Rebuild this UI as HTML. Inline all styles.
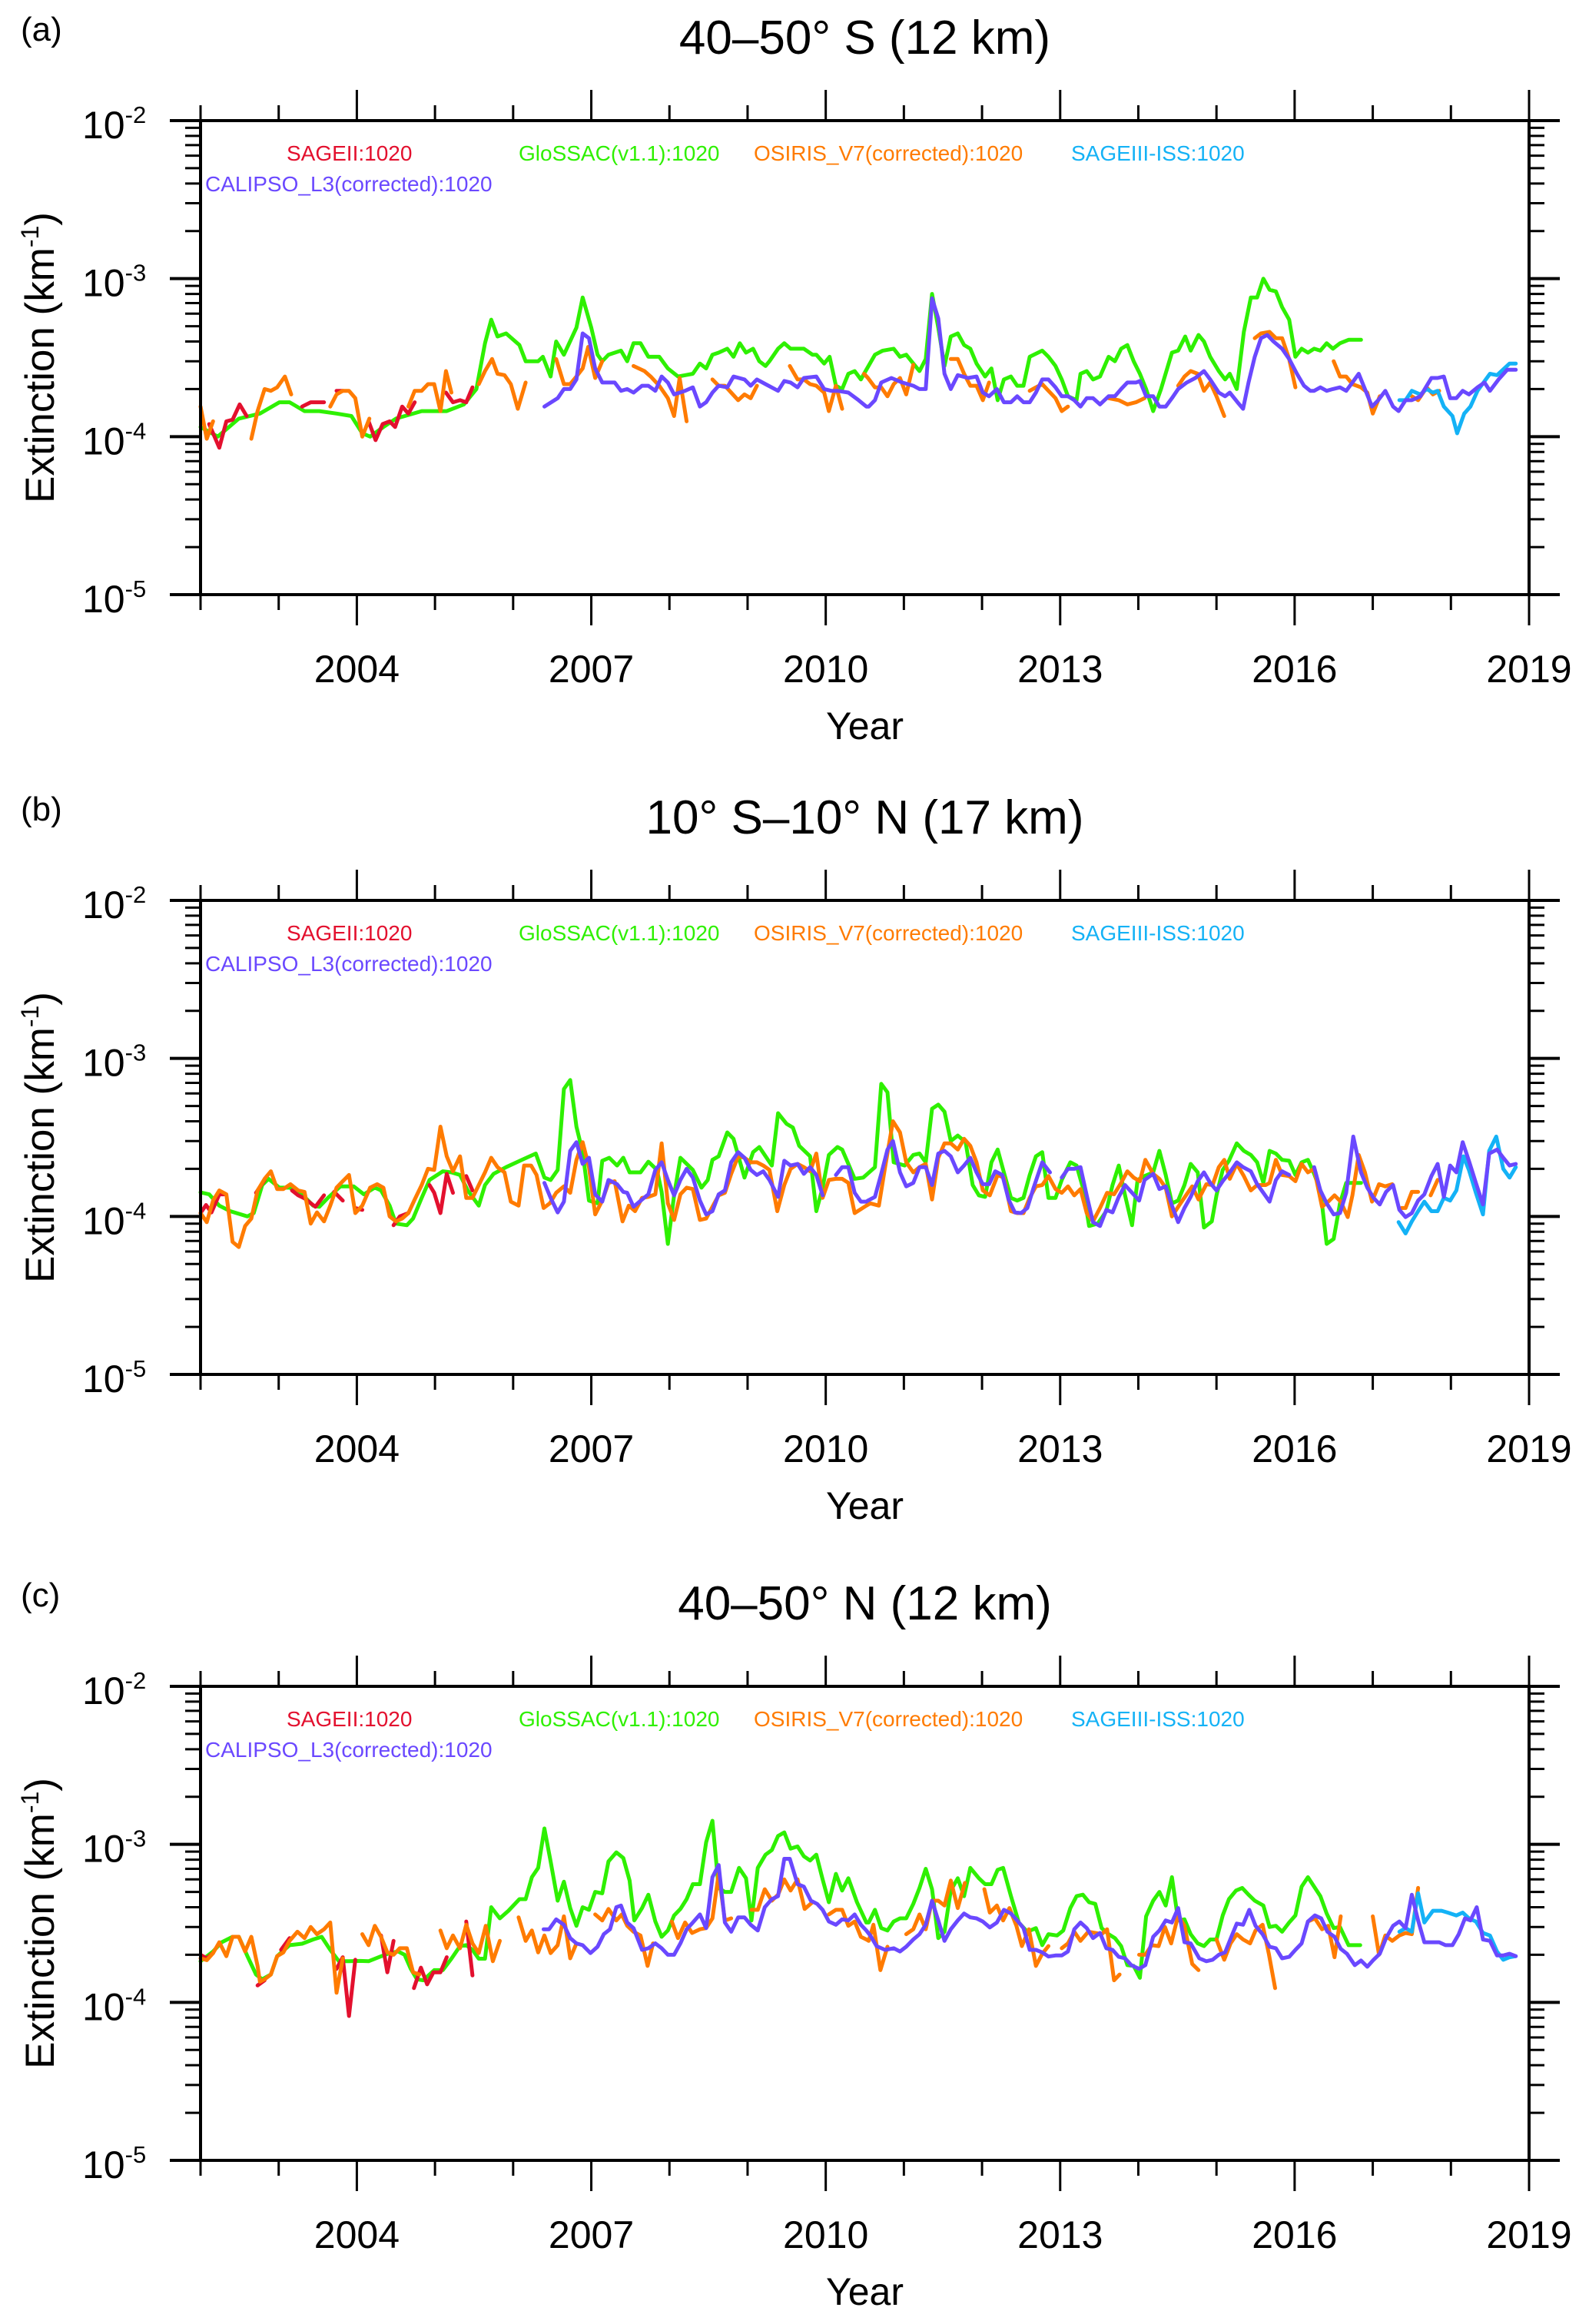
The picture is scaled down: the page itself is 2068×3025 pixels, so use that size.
<!DOCTYPE html>
<html><head><meta charset="utf-8"><title>Extinction time series</title>
<style>
html,body{margin:0;padding:0;background:#fff;}
svg{display:block;font-family:"Liberation Sans",Arial,sans-serif;}
</style></head>
<body>
<svg id="fig" width="2068" height="3025" viewBox="0 0 2068 3025" xmlns="http://www.w3.org/2000/svg"></svg>
<script>
// ---- data (values in units of 1e-4 km^-1; null = gap) ----
const UNIT = 1e-4;
const yearTicks = [2004, 2007, 2010, 2013, 2016, 2019];
const panelTitles = ["40\u201350\u00b0 S (12 km)", "10\u00b0 S\u201310\u00b0 N (17 km)", "40\u201350\u00b0 N (12 km)"];
const panelLetters = ["(a)", "(b)", "(c)"];
const decadeExps = [-2, -3, -4, -5];

const aGloss = [[2002.00,1.15],[2002.22,1.0],[2002.49,1.3],[2002.76,1.4],[2003.01,1.65],[2003.14,1.65],[2003.33,1.45],[2003.52,1.45],[2003.74,1.4],[2003.93,1.35],[2004.07,1.05],[2004.17,1.0],[2004.34,1.15],[2004.50,1.3],[2004.83,1.45],[2005.15,1.45],[2005.37,1.6],[2005.53,2.0],[2005.64,3.9],[2005.72,5.5],[2005.80,4.3],[2005.91,4.5],[2006.08,3.8],[2006.16,3.0],[2006.32,3.0],[2006.38,3.2],[2006.48,2.4],[2006.55,4.0],[2006.65,3.3],[2006.81,4.9],[2006.89,7.6],[2007.00,4.9],[2007.08,3.3],[2007.14,3.0],[2007.22,3.3],[2007.38,3.5],[2007.46,3.0],[2007.54,3.9],[2007.63,3.9],[2007.73,3.2],[2007.87,3.2],[2007.98,2.7],[2008.11,2.4],[2008.30,2.5],[2008.39,2.9],[2008.47,2.7],[2008.55,3.3],[2008.63,3.4],[2008.74,3.6],[2008.82,3.2],[2008.90,3.9],[2008.98,3.4],[2009.07,3.6],[2009.15,3.0],[2009.23,2.8],[2009.28,3.0],[2009.39,3.6],[2009.47,3.9],[2009.55,3.6],[2009.72,3.6],[2009.83,3.3],[2009.88,3.3],[2009.98,2.9],[2010.05,3.2],[2010.13,2.1],[2010.21,2.0],[2010.29,2.5],[2010.37,2.6],[2010.45,2.3],[2010.49,2.5],[2010.63,3.3],[2010.73,3.5],[2010.87,3.6],[2010.95,3.2],[2011.03,3.3],[2011.12,2.9],[2011.20,2.6],[2011.28,3.1],[2011.36,8.0],[2011.44,4.9],[2011.52,2.8],[2011.60,4.3],[2011.69,4.5],[2011.77,3.8],[2011.85,3.6],[2011.93,2.9],[2012.04,2.4],[2012.12,2.7],[2012.20,1.7],[2012.28,2.3],[2012.37,2.4],[2012.45,2.1],[2012.53,2.1],[2012.61,3.2],[2012.77,3.5],[2012.85,3.2],[2012.94,2.8],[2013.02,2.3],[2013.10,1.8],[2013.21,1.7],[2013.26,2.5],[2013.34,2.6],[2013.42,2.3],[2013.51,2.4],[2013.62,3.2],[2013.70,3.0],[2013.78,3.6],[2013.86,3.8],[2013.94,3.0],[2014.02,2.5],[2014.10,2.0],[2014.19,1.45],[2014.29,2.0],[2014.43,3.4],[2014.51,3.5],[2014.60,4.3],[2014.67,3.5],[2014.77,4.4],[2014.84,4.0],[2014.92,3.2],[2015.03,2.6],[2015.11,2.3],[2015.17,2.5],[2015.26,2.0],[2015.35,4.6],[2015.44,7.6],[2015.52,7.6],[2015.60,10],[2015.68,8.5],[2015.76,8.3],[2015.84,6.6],[2015.93,5.5],[2016.01,3.2],[2016.09,3.6],[2016.17,3.4],[2016.25,3.6],[2016.33,3.5],[2016.41,3.9],[2016.49,3.6],[2016.58,3.9],[2016.69,4.1],[2016.85,4.1]];
const aCal = [[2006.40,1.55],[2006.57,1.75],[2006.65,2.0],[2006.73,2.0],[2006.81,2.3],[2006.89,4.5],[2006.97,4.2],[2007.05,2.7],[2007.14,2.2],[2007.30,2.2],[2007.38,1.95],[2007.46,2.0],[2007.54,1.9],[2007.65,2.1],[2007.73,2.1],[2007.82,1.95],[2007.90,2.4],[2007.98,2.2],[2008.06,1.85],[2008.20,1.95],[2008.30,2.05],[2008.39,1.55],[2008.47,1.65],[2008.55,1.9],[2008.63,2.1],[2008.74,2.05],[2008.82,2.4],[2008.96,2.3],[2009.04,2.1],[2009.12,2.3],[2009.23,2.15],[2009.39,1.95],[2009.47,2.25],[2009.55,2.2],[2009.64,2.05],[2009.72,2.35],[2009.88,2.4],[2009.98,2.0],[2010.07,1.95],[2010.15,1.95],[2010.29,1.9],[2010.42,1.7],[2010.52,1.55],[2010.55,1.55],[2010.63,1.7],[2010.71,2.2],[2010.84,2.35],[2010.98,2.2],[2011.12,2.1],[2011.20,2.0],[2011.28,2.0],[2011.36,7.5],[2011.44,5.6],[2011.52,2.5],[2011.60,2.0],[2011.69,2.45],[2011.82,2.35],[2011.93,2.4],[2012.01,1.9],[2012.09,1.8],[2012.19,2.0],[2012.28,1.65],[2012.37,1.65],[2012.45,1.8],[2012.53,1.65],[2012.61,1.65],[2012.69,1.9],[2012.77,2.3],[2012.85,2.3],[2012.94,2.05],[2013.02,1.8],[2013.10,1.8],[2013.18,1.7],[2013.26,1.55],[2013.34,1.75],[2013.42,1.75],[2013.51,1.6],[2013.62,1.8],[2013.70,1.8],[2013.78,2.0],[2013.86,2.2],[2013.97,2.2],[2014.02,2.25],[2014.10,1.8],[2014.19,1.8],[2014.27,1.55],[2014.35,1.55],[2014.43,1.75],[2014.51,2.0],[2014.62,2.2],[2014.73,2.35],[2014.84,2.6],[2014.92,2.3],[2015.03,1.9],[2015.11,1.8],[2015.17,1.9],[2015.27,1.65],[2015.34,1.5],[2015.41,2.2],[2015.49,3.2],[2015.57,4.2],[2015.65,4.4],[2015.73,4.0],[2015.84,3.6],[2015.93,3.1],[2016.03,2.5],[2016.12,2.1],[2016.20,1.95],[2016.25,1.95],[2016.33,2.05],[2016.41,1.95],[2016.49,2.0],[2016.58,2.05],[2016.66,1.95],[2016.74,2.2],[2016.82,2.5],[2016.90,2.0],[2016.99,1.55],[2017.07,1.7],[2017.16,1.95],[2017.26,1.55],[2017.33,1.45],[2017.42,1.7],[2017.50,1.7],[2017.61,1.8],[2017.75,2.35],[2017.83,2.35],[2017.91,2.4],[2017.99,1.75],[2018.07,1.75],[2018.15,1.95],[2018.23,1.85],[2018.34,2.05],[2018.43,2.2],[2018.50,1.95],[2018.61,2.3],[2018.72,2.65],[2018.83,2.65]];
const aOsi = [[2002.00,1.55],[2002.08,0.97],[2002.16,1.25],null,[2002.65,0.97],[2002.73,1.45],[2002.82,2.0],[2002.90,1.95],[2002.98,2.05],[2003.08,2.4],[2003.16,1.85],null,[2003.66,1.55],[2003.74,1.85],[2003.82,1.95],[2003.90,1.95],[2003.98,1.75],[2004.07,1.0],[2004.16,1.3],null,[2004.66,1.55],[2004.74,1.95],[2004.83,1.95],[2004.91,2.15],[2004.99,2.15],[2005.07,1.45],[2005.14,2.6],[2005.21,1.9],null,[2005.56,2.15],[2005.64,2.6],[2005.73,3.1],[2005.80,2.5],[2005.89,2.45],[2005.97,2.15],[2006.06,1.5],[2006.16,2.2],null,[2006.55,3.1],[2006.65,2.15],[2006.73,2.15],[2006.81,2.4],[2006.89,2.7],[2006.96,3.7],[2007.05,2.35],[2007.14,3.0],null,[2007.54,2.8],[2007.68,2.6],[2007.76,2.4],[2007.87,2.1],[2007.98,1.75],[2008.06,1.35],[2008.13,2.35],[2008.22,1.25],null,[2008.55,2.3],[2008.63,2.1],[2008.71,2.1],[2008.79,1.9],[2008.88,1.7],[2008.96,1.85],[2009.04,1.75],[2009.12,2.1],null,[2009.54,2.8],[2009.64,2.3],[2009.72,2.3],[2009.80,2.15],[2009.88,2.1],[2009.98,1.9],[2010.04,1.45],[2010.13,2.1],[2010.21,1.5],null,[2010.49,2.5],[2010.54,2.35],[2010.63,2.05],[2010.71,2.05],[2010.79,1.8],[2010.87,2.15],[2010.95,2.35],[2011.03,1.85],[2011.12,2.85],null,[2011.60,3.1],[2011.69,3.1],[2011.77,2.5],[2011.85,2.1],[2011.93,2.1],[2012.01,1.7],[2012.09,2.2],null,[2012.61,1.95],[2012.69,2.05],[2012.77,2.15],[2012.85,1.95],[2012.94,1.75],[2013.02,1.45],[2013.10,1.55],null,[2013.62,1.75],[2013.75,1.7],[2013.86,1.6],[2013.97,1.65],[2014.08,1.75],null,[2014.51,2.1],[2014.59,2.4],[2014.67,2.6],[2014.76,2.5],[2014.84,1.95],[2014.92,2.2],[2015.00,1.8],[2015.10,1.35],null,[2015.49,4.2],[2015.57,4.5],[2015.68,4.6],[2015.76,4.2],[2015.84,4.2],[2015.93,3.1],[2016.01,2.05],null,[2016.50,3.0],[2016.58,2.4],[2016.66,2.4],[2016.74,2.15],[2016.85,2.05],[2016.93,1.9],[2017.00,1.4],[2017.09,1.8],null,[2017.50,1.8],[2017.58,1.7],[2017.69,2.05],[2017.77,1.85],[2017.85,1.95]];
const aSage = [[2002.11,1.2],[2002.24,0.85],[2002.33,1.25],[2002.41,1.28],[2002.50,1.6],[2002.59,1.35],null,[2003.30,1.55],[2003.41,1.65],[2003.58,1.65],null,[2003.74,1.95],[2003.82,1.95],null,[2004.15,1.25],[2004.24,0.95],[2004.33,1.2],[2004.42,1.25],[2004.49,1.15],[2004.58,1.55],[2004.66,1.4],[2004.74,1.65],null,[2005.14,1.9],[2005.23,1.65],[2005.32,1.7],[2005.40,1.65],[2005.48,2.05]];
const aIss = [[2017.34,1.7],[2017.42,1.7],[2017.50,1.95],[2017.61,1.85],[2017.69,2.0],[2017.77,1.9],[2017.83,1.95],[2017.91,1.55],[2018.02,1.35],[2018.08,1.05],[2018.17,1.4],[2018.25,1.55],[2018.34,1.95],[2018.50,2.5],[2018.59,2.45],[2018.75,2.9],[2018.83,2.9]];

const bGloss = [[2002.00,1.42],[2002.11,1.38],[2002.24,1.17],[2002.38,1.08],[2002.60,1.0],[2002.68,1.05],[2002.79,1.58],[2002.87,1.73],[2003.01,1.52],[2003.14,1.52],[2003.28,1.41],[2003.44,1.17],[2003.52,1.15],[2003.63,1.31],[2003.79,1.55],[2003.96,1.55],[2004.09,1.38],[2004.23,1.52],[2004.31,1.46],[2004.42,1.17],[2004.50,0.9],[2004.64,0.88],[2004.72,0.97],[2004.83,1.31],[2004.93,1.7],[2005.10,1.93],[2005.21,1.9],[2005.32,1.83],[2005.42,1.46],[2005.56,1.17],[2005.64,1.58],[2005.75,1.86],[2005.91,2.05],[2006.13,2.3],[2006.29,2.5],[2006.40,1.76],[2006.48,1.7],[2006.57,1.97],[2006.65,6.4],[2006.73,7.3],[2006.81,3.7],[2006.89,2.55],[2006.97,1.26],[2007.08,1.21],[2007.14,2.25],[2007.23,2.35],[2007.33,2.1],[2007.41,2.35],[2007.49,1.9],[2007.57,1.9],[2007.63,1.9],[2007.73,2.22],[2007.84,1.97],[2007.90,1.43],[2007.98,0.67],[2008.06,1.36],[2008.14,2.35],[2008.30,1.97],[2008.41,1.52],[2008.49,1.7],[2008.55,2.28],[2008.63,2.4],[2008.74,3.4],[2008.82,3.1],[2008.96,1.76],[2009.07,2.55],[2009.15,2.75],[2009.31,2.1],[2009.39,4.5],[2009.50,3.85],[2009.58,3.65],[2009.66,2.8],[2009.80,2.4],[2009.88,1.08],[2009.96,1.52],[2010.04,2.45],[2010.15,2.75],[2010.21,2.65],[2010.29,2.15],[2010.37,1.73],[2010.48,1.76],[2010.63,2.05],[2010.71,6.9],[2010.79,6.1],[2010.87,2.2],[2011.01,2.1],[2011.12,2.45],[2011.20,2.5],[2011.28,2.2],[2011.36,4.8],[2011.44,5.1],[2011.52,4.6],[2011.60,3.0],[2011.69,3.25],[2011.79,2.95],[2011.88,1.58],[2011.96,1.36],[2012.04,1.33],[2012.12,2.2],[2012.20,2.65],[2012.28,1.9],[2012.37,1.31],[2012.45,1.26],[2012.53,1.31],[2012.61,1.83],[2012.69,2.4],[2012.77,2.55],[2012.85,1.31],[2012.94,1.31],[2013.02,1.7],[2013.13,2.2],[2013.21,2.1],[2013.29,1.52],[2013.37,0.87],[2013.48,0.9],[2013.59,1.08],[2013.67,1.58],[2013.75,2.1],[2013.83,1.36],[2013.92,0.88],[2013.99,1.7],[2014.08,1.8],[2014.19,1.9],[2014.27,2.6],[2014.35,1.83],[2014.43,1.21],[2014.51,1.26],[2014.59,1.58],[2014.67,2.15],[2014.76,1.9],[2014.84,0.85],[2014.94,0.93],[2015.00,1.36],[2015.08,1.97],[2015.16,2.25],[2015.26,2.9],[2015.35,2.6],[2015.44,2.45],[2015.52,2.2],[2015.60,1.63],[2015.68,2.6],[2015.76,2.5],[2015.84,2.28],[2015.93,2.25],[2016.01,1.83],[2016.09,2.2],[2016.17,2.28],[2016.25,1.86],[2016.33,1.46],[2016.41,0.67],[2016.50,0.72],[2016.58,1.21],[2016.66,1.63],[2016.74,1.63],[2016.85,1.63]];
const bCal = [[2006.40,1.63],[2006.48,1.31],[2006.57,1.06],[2006.65,1.24],[2006.73,2.6],[2006.81,2.95],[2006.89,2.15],[2006.97,2.35],[2007.05,1.38],[2007.14,1.24],[2007.22,1.7],[2007.33,1.6],[2007.41,1.43],[2007.46,1.41],[2007.54,1.15],[2007.65,1.28],[2007.73,1.38],[2007.82,1.97],[2007.90,2.2],[2007.98,1.7],[2008.06,1.36],[2008.14,1.7],[2008.22,2.0],[2008.30,1.76],[2008.39,1.26],[2008.47,1.03],[2008.55,1.08],[2008.63,1.38],[2008.71,1.46],[2008.79,2.2],[2008.88,2.55],[2008.96,2.35],[2009.04,1.97],[2009.12,1.83],[2009.20,1.93],[2009.28,1.7],[2009.39,1.33],[2009.47,2.25],[2009.55,2.1],[2009.64,2.15],[2009.72,1.86],[2009.80,2.05],[2009.88,1.83],[2009.96,1.36],null,[2010.13,1.83],[2010.21,2.05],[2010.29,2.05],[2010.37,1.41],[2010.45,1.24],[2010.52,1.24],[2010.54,1.26],[2010.63,1.33],[2010.71,1.86],[2010.79,2.65],[2010.86,3.0],[2010.95,1.9],[2011.03,1.55],[2011.12,1.63],[2011.20,2.05],[2011.28,2.05],[2011.36,1.58],[2011.44,2.5],[2011.52,2.6],[2011.60,2.4],[2011.69,1.9],[2011.77,2.1],[2011.85,2.35],[2011.93,1.9],[2012.01,1.6],[2012.09,1.6],[2012.17,1.93],[2012.26,1.83],[2012.34,1.28],[2012.42,1.06],[2012.50,1.05],[2012.58,1.13],[2012.66,1.52],[2012.77,2.2],[2012.87,1.9],null,[2013.02,1.76],[2013.10,2.0],[2013.18,2.0],[2013.26,2.05],[2013.34,1.36],[2013.42,0.92],[2013.51,0.87],[2013.59,1.1],[2013.67,1.06],[2013.75,1.33],[2013.83,1.58],[2013.91,1.43],[2014.01,1.26],[2014.08,1.7],[2014.19,1.86],[2014.27,1.49],[2014.35,1.55],[2014.43,1.17],[2014.51,0.92],[2014.59,1.13],[2014.67,1.33],[2014.76,1.67],[2014.84,1.9],[2014.92,1.63],[2015.00,1.46],[2015.08,1.67],[2015.17,1.9],[2015.26,2.2],[2015.34,2.05],[2015.44,1.93],[2015.52,1.6],[2015.60,1.41],[2015.68,1.24],[2015.76,1.7],[2015.84,1.93],[2015.93,1.83],null,[2016.25,2.05],[2016.33,1.46],[2016.41,1.21],[2016.50,1.03],[2016.58,1.05],[2016.66,1.41],[2016.75,3.2],[2016.85,1.9],[2016.93,1.52],[2017.01,1.31],[2017.09,1.19],[2017.17,1.43],[2017.26,1.58],[2017.34,1.1],[2017.42,0.99],[2017.50,1.05],[2017.58,1.26],[2017.66,1.38],[2017.75,1.8],[2017.83,2.15],[2017.91,1.33],[2017.99,2.1],[2018.07,1.9],[2018.15,2.95],[2018.23,2.25],[2018.32,1.63],[2018.41,1.19],[2018.49,2.5],[2018.59,2.65],[2018.67,2.35],[2018.75,2.1],[2018.83,2.15]];
const bOsi = [[2002.00,1.05],[2002.08,0.92],[2002.16,1.26],[2002.24,1.46],[2002.33,1.38],[2002.41,0.69],[2002.49,0.64],[2002.57,0.87],[2002.65,0.97],[2002.73,1.46],[2002.82,1.73],[2002.90,1.93],[2002.98,1.49],[2003.06,1.49],[2003.15,1.6],[2003.25,1.46],[2003.33,1.43],[2003.41,0.9],[2003.49,1.06],[2003.58,0.93],[2003.66,1.17],[2003.74,1.52],[2003.82,1.67],[2003.90,1.83],[2003.98,1.05],[2004.07,1.17],[2004.17,1.52],[2004.26,1.6],[2004.34,1.52],[2004.42,1.0],[2004.50,0.93],[2004.58,0.97],[2004.66,1.05],[2004.74,1.28],[2004.83,1.58],[2004.91,2.0],[2004.99,1.97],[2005.07,3.7],[2005.15,2.4],[2005.23,1.93],[2005.32,2.4],[2005.40,1.31],[2005.48,1.31],[2005.56,1.58],[2005.64,1.9],[2005.72,2.35],[2005.80,2.05],[2005.89,1.9],[2005.97,1.24],[2006.07,1.17],[2006.14,2.1],[2006.23,2.1],[2006.30,1.83],[2006.39,1.13],[2006.47,1.21],[2006.55,1.41],[2006.65,1.55],[2006.73,1.41],[2006.81,2.28],[2006.89,2.95],[2006.97,2.05],[2007.05,1.03],[2007.14,1.26],[2007.22,1.63],[2007.30,1.67],[2007.40,0.93],[2007.48,1.17],[2007.56,1.08],[2007.65,1.31],[2007.73,1.33],[2007.82,1.38],[2007.90,2.9],[2007.98,1.21],[2008.06,0.95],[2008.14,1.38],[2008.22,1.52],[2008.30,1.49],[2008.39,0.95],[2008.47,0.97],[2008.55,1.15],[2008.63,1.36],[2008.71,1.41],[2008.79,1.86],[2008.88,2.4],[2008.96,2.35],[2009.04,2.2],[2009.12,2.2],[2009.20,2.1],[2009.28,1.97],[2009.38,1.08],[2009.47,1.58],[2009.55,2.0],[2009.64,2.15],[2009.72,2.05],[2009.80,1.93],[2009.88,2.5],[2009.96,1.31],[2010.04,1.7],[2010.13,1.73],[2010.21,1.73],[2010.29,1.63],[2010.37,1.05],[2010.52,1.17],[2010.57,1.21],[2010.68,1.17],[2010.76,2.05],[2010.86,4.0],[2010.95,3.4],[2011.03,2.2],[2011.12,1.9],[2011.20,2.05],[2011.28,2.15],[2011.36,1.28],[2011.44,2.35],[2011.52,2.9],[2011.60,2.9],[2011.69,2.65],[2011.77,3.1],[2011.85,2.8],[2011.93,2.2],[2012.01,1.46],[2012.10,1.36],[2012.20,1.83],[2012.28,1.76],[2012.37,1.08],[2012.45,1.05],[2012.53,1.05],[2012.61,1.31],[2012.69,1.55],[2012.77,1.58],[2012.85,1.8],[2012.94,1.49],[2013.02,1.41],[2013.10,1.55],[2013.18,1.36],[2013.26,1.49],[2013.34,1.05],[2013.42,0.93],[2013.51,1.13],[2013.60,1.41],[2013.69,1.38],[2013.78,1.63],[2013.86,1.93],[2013.94,1.76],[2014.02,1.67],[2014.09,2.28],[2014.19,1.86],[2014.27,1.73],[2014.35,1.52],[2014.43,1.0],[2014.52,1.17],[2014.61,1.36],[2014.69,1.55],[2014.77,1.28],[2014.87,1.6],[2014.95,1.58],[2015.03,2.05],[2015.10,2.28],[2015.17,1.73],[2015.26,2.15],[2015.35,1.8],[2015.44,1.46],[2015.52,1.58],[2015.63,1.58],[2015.68,1.63],[2015.76,2.28],[2015.84,1.83],[2015.93,1.8],[2016.01,1.67],[2016.09,2.15],[2016.17,1.9],[2016.25,2.0],[2016.35,1.15],[2016.43,1.24],[2016.51,1.36],[2016.59,1.24],[2016.68,0.99],[2016.74,1.36],[2016.82,2.45],[2016.90,1.9],[2016.99,1.24],[2017.08,1.6],[2017.16,1.55],[2017.25,1.6],null,[2017.37,1.13],[2017.42,1.13],[2017.50,1.43],[2017.58,1.43],null,[2017.74,1.36],[2017.83,1.7]];
const bSage = [[2002.00,1.05],[2002.07,1.18],[2002.14,1.06],[2002.24,1.38],[2002.30,1.38],null,[2002.71,1.41],[2002.82,1.7],null,[2003.17,1.46],[2003.25,1.36],[2003.33,1.3],[2003.47,1.15],[2003.58,1.36],null,[2003.71,1.43],[2003.82,1.26],null,[2003.98,1.13],[2004.07,1.1],null,[2004.47,0.88],[2004.55,1.0],[2004.66,1.05],null,[2004.93,1.58],[2004.99,1.41],[2005.07,1.05],[2005.15,1.86],[2005.23,1.41],null,[2005.40,1.8],[2005.48,1.46]];
const bIss = [[2017.33,0.92],[2017.42,0.78],[2017.50,0.93],[2017.58,1.08],[2017.66,1.24],[2017.75,1.08],[2017.83,1.08],[2017.91,1.31],[2017.99,1.26],[2018.07,1.46],[2018.16,2.4],[2018.23,1.97],[2018.32,1.41],[2018.41,1.03],[2018.49,2.6],[2018.58,3.2],[2018.67,2.0],[2018.75,1.76],[2018.83,2.05]];

const cGloss = [[2002.00,1.82],[2002.16,2.1],[2002.27,2.4],[2002.41,2.6],[2002.49,2.6],[2002.60,1.96],[2002.71,1.5],[2002.79,1.4],[2002.90,1.5],[2002.98,1.96],[2003.14,2.3],[2003.30,2.35],[2003.44,2.5],[2003.55,2.6],[2003.66,2.15],[2003.77,1.82],[2003.90,1.82],[2004.04,1.83],[2004.15,1.82],[2004.28,1.93],[2004.42,2.05],[2004.53,2.1],[2004.61,2.0],[2004.69,1.63],[2004.77,1.4],[2004.85,1.38],[2004.99,1.6],[2005.10,1.6],[2005.21,1.89],[2005.32,2.27],[2005.40,2.3],[2005.48,2.15],[2005.56,1.89],[2005.64,1.89],[2005.72,4.0],[2005.83,3.4],[2005.94,3.8],[2006.08,4.5],[2006.16,4.5],[2006.24,6.2],[2006.32,7.1],[2006.40,12.6],[2006.48,7.8],[2006.57,4.4],[2006.65,5.8],[2006.73,3.95],[2006.81,3.05],[2006.89,4.0],[2006.97,3.85],[2007.05,5.0],[2007.14,4.9],[2007.22,7.8],[2007.32,8.9],[2007.41,8.2],[2007.49,5.9],[2007.55,3.3],[2007.65,3.95],[2007.73,4.8],[2007.82,3.25],[2007.90,2.6],[2007.98,2.85],[2008.06,3.55],[2008.14,3.9],[2008.22,4.5],[2008.30,5.6],[2008.39,5.6],[2008.47,10.3],[2008.55,14.1],[2008.63,5.3],[2008.71,5.0],[2008.79,5.0],[2008.89,7.1],[2008.98,6.1],[2009.05,3.3],[2009.13,7.1],[2009.23,8.6],[2009.31,9.2],[2009.39,11.3],[2009.47,11.9],[2009.55,9.4],[2009.64,9.7],[2009.72,8.4],[2009.80,7.9],[2009.88,8.6],[2009.96,6.0],[2010.04,4.3],[2010.13,6.5],[2010.21,5.1],[2010.29,6.1],[2010.40,4.3],[2010.52,3.2],[2010.55,3.2],[2010.63,3.85],[2010.71,2.95],[2010.79,2.85],[2010.87,3.25],[2010.95,3.4],[2011.03,3.4],[2011.12,4.2],[2011.20,5.3],[2011.28,7.0],[2011.36,5.2],[2011.44,2.55],[2011.52,2.8],[2011.60,5.1],[2011.69,6.1],[2011.77,4.7],[2011.85,7.1],[2011.96,6.1],[2012.04,5.6],[2012.12,5.6],[2012.20,6.9],[2012.27,7.1],[2012.37,4.7],[2012.47,3.2],[2012.58,2.8],[2012.69,2.95],[2012.77,2.3],[2012.85,2.7],[2012.96,2.65],[2013.04,2.85],[2013.13,3.95],[2013.21,4.7],[2013.29,4.8],[2013.37,4.3],[2013.45,4.2],[2013.53,2.95],[2013.62,2.7],[2013.70,2.55],[2013.78,2.27],[2013.86,1.72],[2013.94,1.7],[2014.02,1.43],[2014.10,3.5],[2014.19,4.4],[2014.27,5.0],[2014.35,4.1],[2014.43,6.2],[2014.51,3.3],[2014.59,3.35],[2014.67,2.7],[2014.76,2.36],[2014.84,2.27],[2014.92,2.5],[2015.00,2.5],[2015.08,3.55],[2015.16,4.5],[2015.25,5.1],[2015.33,5.3],[2015.41,4.8],[2015.49,4.4],[2015.60,4.1],[2015.68,3.0],[2015.76,3.05],[2015.84,2.8],[2015.93,3.2],[2016.01,3.55],[2016.09,5.4],[2016.17,6.2],[2016.25,5.4],[2016.33,4.7],[2016.41,3.65],[2016.50,2.95],[2016.58,3.0],[2016.69,2.3],[2016.84,2.3]];
const cCal = [[2006.39,2.9],[2006.46,2.9],[2006.55,3.35],[2006.65,3.1],[2006.73,2.55],[2006.81,2.36],[2006.89,2.3],[2006.99,2.05],[2007.08,2.25],[2007.16,2.7],[2007.24,2.9],[2007.32,4.0],[2007.38,4.1],[2007.46,3.2],[2007.54,2.95],[2007.65,2.15],[2007.73,2.2],[2007.82,2.36],[2007.90,2.2],[2007.98,2.0],[2008.06,2.0],[2008.14,2.36],[2008.22,2.9],[2008.30,3.2],[2008.39,3.6],[2008.47,2.95],[2008.55,6.2],[2008.63,7.4],[2008.71,3.2],[2008.79,2.8],[2008.88,3.45],[2008.96,3.45],[2009.04,3.1],[2009.13,2.85],[2009.22,4.0],[2009.31,4.5],[2009.39,4.7],[2009.47,8.1],[2009.54,8.1],[2009.64,5.6],[2009.72,5.4],[2009.81,4.4],[2009.89,4.2],[2009.96,3.85],[2010.04,3.25],[2010.13,3.1],[2010.21,3.35],[2010.29,3.3],[2010.37,3.6],[2010.45,3.1],[2010.52,2.85],[2010.57,2.65],[2010.65,2.27],[2010.76,2.15],[2010.87,2.2],[2010.95,2.1],[2011.03,2.25],[2011.12,2.5],[2011.20,2.7],[2011.28,3.1],[2011.36,4.4],[2011.44,3.3],[2011.52,2.45],[2011.60,2.9],[2011.69,3.3],[2011.77,3.65],[2011.85,3.45],[2011.93,3.4],[2012.01,3.25],[2012.10,2.98],[2012.19,3.2],[2012.28,3.85],[2012.37,3.65],[2012.45,3.3],[2012.53,2.95],[2012.61,2.15],[2012.69,2.15],[2012.77,2.07],[2012.85,1.95],[2012.94,1.98],[2013.02,1.98],[2013.10,2.1],[2013.18,2.9],[2013.26,3.2],[2013.34,2.95],[2013.42,2.55],[2013.51,2.75],[2013.59,2.2],[2013.67,2.15],[2013.75,1.94],[2013.83,1.9],[2013.91,1.72],[2014.01,1.63],[2014.09,1.72],[2014.19,2.6],[2014.27,2.85],[2014.35,3.3],[2014.43,3.2],[2014.51,3.95],[2014.59,2.4],[2014.67,2.36],[2014.78,1.9],[2014.87,1.82],[2014.95,1.86],[2015.03,2.0],[2015.11,2.07],[2015.19,2.6],[2015.26,3.15],[2015.34,3.1],[2015.42,3.85],[2015.50,3.05],[2015.59,2.7],[2015.68,2.25],[2015.76,2.2],[2015.84,1.9],[2015.93,1.94],[2016.01,2.15],[2016.09,2.36],[2016.17,3.25],[2016.26,3.55],[2016.34,3.4],[2016.42,2.8],[2016.51,2.6],[2016.59,2.18],[2016.67,2.03],[2016.77,1.72],[2016.85,1.84],[2016.93,1.68],[2017.01,1.86],[2017.09,2.03],[2017.17,2.55],[2017.26,3.05],[2017.34,3.25],[2017.42,2.95],[2017.50,4.8],[2017.58,3.3],[2017.66,2.4],[2017.77,2.4],[2017.85,2.4],[2017.93,2.3],[2018.02,2.3],[2018.10,2.7],[2018.18,3.4],[2018.25,3.3],[2018.33,4.0],[2018.41,2.5],[2018.50,2.45],[2018.59,1.98],[2018.67,1.98],[2018.75,2.03],[2018.83,1.96]];
const cOsi = [[2002.00,1.9],[2002.08,1.85],[2002.16,2.05],[2002.24,2.4],[2002.33,1.96],[2002.41,2.6],[2002.49,2.6],[2002.57,2.1],[2002.65,2.6],[2002.73,1.7],[2002.76,1.35],[2002.82,1.4],[2002.90,1.5],[2002.98,1.96],[2003.06,2.07],[2003.14,2.45],[2003.24,2.8],[2003.33,2.55],[2003.41,3.0],[2003.49,2.7],[2003.58,2.9],[2003.66,3.2],[2003.74,1.15],[2003.82,1.9],null,[2004.07,2.7],[2004.15,2.3],[2004.23,3.05],[2004.31,2.6],[2004.39,2.07],[2004.47,2.0],[2004.55,2.2],[2004.64,2.2],[2004.72,1.55],[2004.80,1.5],null,[2005.07,2.85],[2005.15,2.2],[2005.23,2.65],[2005.32,2.2],[2005.40,3.1],[2005.48,2.36],[2005.56,2.05],[2005.65,3.05],[2005.74,1.82],[2005.83,2.45],null,[2006.07,3.45],[2006.16,2.45],[2006.24,2.85],[2006.32,2.07],[2006.40,2.65],[2006.48,2.05],[2006.57,2.3],[2006.65,3.5],[2006.73,1.9],[2006.81,2.36],null,[2007.05,3.6],[2007.14,3.3],[2007.22,3.9],[2007.32,3.3],[2007.39,3.6],[2007.46,3.05],[2007.54,2.8],[2007.63,2.65],[2007.72,1.7],[2007.79,2.36],null,[2008.03,3.25],[2008.11,2.55],[2008.20,3.2],[2008.29,2.75],[2008.39,2.9],[2008.47,2.95],[2008.55,3.4],[2008.63,6.5],[2008.71,3.3],[2008.79,3.4],null,[2009.05,3.85],[2009.13,3.85],[2009.22,5.2],[2009.31,4.4],[2009.39,4.8],[2009.47,6.0],[2009.55,5.1],[2009.64,6.0],[2009.73,3.9],[2009.83,4.3],null,[2010.04,3.6],[2010.13,3.85],[2010.21,3.85],[2010.29,3.05],[2010.37,3.25],[2010.45,2.6],[2010.52,2.5],[2010.55,2.45],[2010.61,3.1],[2010.70,1.6],[2010.79,2.25],null,[2011.03,2.7],[2011.12,2.9],[2011.20,3.6],[2011.28,2.9],[2011.36,4.4],[2011.44,4.4],[2011.52,4.1],[2011.60,5.9],[2011.69,3.95],[2011.78,5.7],null,[2012.03,5.2],[2012.10,3.7],[2012.19,4.1],[2012.27,3.3],[2012.35,3.95],[2012.44,3.05],[2012.51,2.27],[2012.60,2.9],[2012.69,1.7],[2012.77,2.03],[2012.85,2.27],null,[2013.02,2.2],[2013.10,2.36],[2013.18,2.8],[2013.26,2.45],[2013.36,2.8],[2013.45,2.75],[2013.53,2.7],[2013.60,2.9],[2013.69,1.38],[2013.76,1.5],null,[2014.01,2.0],[2014.09,2.0],[2014.17,2.3],[2014.26,2.27],[2014.34,3.0],[2014.42,2.36],[2014.51,3.55],[2014.59,3.05],[2014.69,1.75],[2014.77,1.6],null,[2015.00,2.5],[2015.10,1.86],[2015.18,2.36],[2015.26,2.7],[2015.34,2.5],[2015.43,2.36],[2015.50,2.85],[2015.59,3.1],[2015.67,2.03],[2015.75,1.23],null,[2016.17,3.25],[2016.26,3.4],[2016.35,2.9],[2016.43,3.05],[2016.51,1.93],[2016.59,3.5],null,[2017.00,3.5],[2017.08,2.0],[2017.16,2.65],[2017.25,2.45],[2017.34,2.65],[2017.42,2.75],[2017.50,2.7],[2017.58,5.3]];
const cSage = [[2002.00,2.0],[2002.08,1.9],[2002.16,2.05],null,[2002.73,1.28],[2002.82,1.38],null,[2003.03,2.15],[2003.14,2.55],null,[2003.74,1.63],[2003.82,1.93],[2003.90,0.82],[2003.98,1.86],null,[2004.31,2.65],[2004.39,1.55],[2004.47,2.45],null,[2004.73,1.23],[2004.82,1.66],[2004.90,1.3],[2004.98,1.55],[2005.07,1.55],[2005.15,1.93],null,[2005.40,3.25],[2005.48,1.48]];
const cIss = [[2017.34,2.8],[2017.42,2.95],[2017.50,2.8],[2017.58,4.9],[2017.66,3.2],[2017.77,3.8],[2017.88,3.8],[2017.96,3.7],[2018.07,3.55],[2018.15,3.7],[2018.23,3.4],[2018.32,3.25],[2018.41,2.75],[2018.50,2.65],[2018.59,2.1],[2018.67,1.86],[2018.75,1.93],[2018.83,1.96]];

const panelSeries = [
  {gloss:aGloss, sage:aSage, osi:aOsi, iss:aIss, cal:aCal},
  {gloss:bGloss, sage:bSage, osi:bOsi, iss:bIss, cal:bCal},
  {gloss:cGloss, sage:cSage, osi:cOsi, iss:cIss, cal:cCal}
];

// ---- layout ----
const NS = "http://www.w3.org/2000/svg";
const svg = document.getElementById("fig");
const L = 261, R = 1990, X0 = 2002, X1 = 2019, H = 617;
const tops = [157, 1172, 2195];
const colors = {sage:"#e3102e", gloss:"#2ef000", osi:"#ff7b00", iss:"#14b2f6", cal:"#6a48ff"};
const legend = [
  {key:"sage", text:"SAGEII:1020", x:373, row:0},
  {key:"gloss", text:"GloSSAC(v1.1):1020", x:675, row:0},
  {key:"osi", text:"OSIRIS_V7(corrected):1020", x:981, row:0},
  {key:"iss", text:"SAGEIII-ISS:1020", x:1394, row:0},
  {key:"cal", text:"CALIPSO_L3(corrected):1020", x:267, row:1}
];
const drawOrder = ["gloss","sage","osi","iss","cal"];

function el(tag, attrs, parent){
  const e = document.createElementNS(NS, tag);
  for (const k in attrs) e.setAttribute(k, attrs[k]);
  (parent||svg).appendChild(e);
  return e;
}
const xScale = t => L + (t - X0) / (X1 - X0) * (R - L);
function yScaleFor(top){ return v => top + (-2 - Math.log10(v * UNIT)) / 3 * H; }

tops.forEach((top, p) => {
  const bottom = top + H;
  const ys = yScaleFor(top);
  const g = el("g", {});
  
  

  const letter = el("text", {x:27, y:top-104, "font-size":44, fill:"#000"}, g);
  letter.textContent = panelLetters[p];
  
  

  const title = el("text", {x:(L+R)/2, y:top-87, "font-size":62, "text-anchor":"middle", fill:"#000"}, g);
  title.textContent = panelTitles[p];
  
  

  const lines = el("g", {fill:"none", "stroke-width":5, "stroke-linejoin":"round", "stroke-linecap":"round"}, g);
  
  
  drawOrder.forEach(key => {
    const pts = panelSeries[p][key];
    let d = "", pen = false;
    pts.forEach(pt => {
      if (pt === null) { pen = false; return; }
      d += (pen ? "L" : "M") + xScale(pt[0]).toFixed(1) + " " + ys(pt[1]).toFixed(1);
      pen = true;
    });
    const path = el("path", {d:d, stroke:colors[key]}, lines);
    
    
  });

  const frame = el("rect", {x:L, y:top, width:R-L, height:H, fill:"none", stroke:"#000", "stroke-width":4}, g);
  
  

  const xt = el("g", {stroke:"#000", "stroke-width":3}, g);
  
  
  for (let yr = X0; yr <= X1; yr++) {
    const x = xScale(yr);
    const len = yearTicks.includes(yr) ? 40 : 20;
    el("line", {x1:x, y1:top, x2:x, y2:top-len}, xt);
    el("line", {x1:x, y1:bottom, x2:x, y2:bottom+len}, xt);
  }
  yearTicks.forEach(yr => {
    const t = el("text", {x:xScale(yr), y:bottom+114, "font-size":50, "text-anchor":"middle", fill:"#000"}, g);
    t.textContent = yr;
    
    
  });
  const xTitle = el("text", {x:(L+R)/2, y:bottom+188, "font-size":50, "text-anchor":"middle", fill:"#000"}, g);
  xTitle.textContent = "Year";
  
  

  const yt = el("g", {stroke:"#000", "stroke-width":3}, g);
  
  
  decadeExps.forEach((e, i) => {
    const y = ys(Math.pow(10, e) / UNIT);
    el("line", {x1:L-40, y1:y, x2:L, y2:y, "stroke-width":4}, yt);
    el("line", {x1:R, y1:y, x2:R+40, y2:y, "stroke-width":4}, yt);
    if (i < decadeExps.length - 1) {
      for (let m = 2; m <= 9; m++) {
        const ym = ys(m * Math.pow(10, e - 1) / UNIT);
        el("line", {x1:L-20, y1:ym, x2:L, y2:ym}, yt);
        el("line", {x1:R, y1:ym, x2:R+20, y2:ym}, yt);
      }
    }
    const lab = el("text", {x:107, y:y+23, "font-size":50, fill:"#000"}, g);
    
    
    const t1 = el("tspan", {}, lab); t1.textContent = "10";
    const t2 = el("tspan", {dy:-20, "font-size":31}, lab); t2.textContent = String(e);
  });

  const cy = top + H/2;
  const yTitle = el("text", {x:0, y:0, "font-size":53, "text-anchor":"middle", fill:"#000", transform:"translate(70," + cy + ") rotate(-90)"}, g);
  
  
  const s1 = el("tspan", {}, yTitle); s1.textContent = "Extinction (km";
  const s2 = el("tspan", {dy:-20, "font-size":32}, yTitle); s2.textContent = "-1";
  const s3 = el("tspan", {dy:20}, yTitle); s3.textContent = ")";

  legend.forEach(lg => {
    const t = el("text", {x:lg.x, y:top + (lg.row ? 92 : 52), "font-size":28, fill:colors[lg.key]}, g);
    t.textContent = lg.text;
    
    
  });
});
</script>
</body></html>
